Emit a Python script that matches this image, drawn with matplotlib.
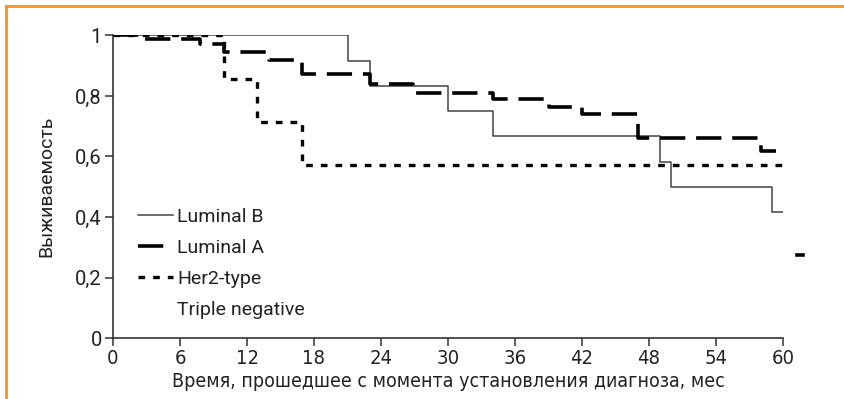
import matplotlib
matplotlib.use("Agg")
import matplotlib.pyplot as plt
from matplotlib.lines import Line2D

# Kaplan-Meier step data (months, survival)
lumb_t = [0, 21, 23, 30, 34, 49, 50, 59, 60]
lumb_s = [1.0, 0.917, 0.833, 0.75, 0.667, 0.583, 0.5, 0.417, 0.417]

luma_t = [0, 2.3, 7.8, 9.9, 14, 16.9, 23, 26.9, 34, 39, 42, 47, 58, 59.4]
luma_s = [1.0, 0.99, 0.972, 0.947, 0.92, 0.872, 0.84, 0.81, 0.789, 0.762, 0.741, 0.662, 0.618, 0.618]

her2_t = [0, 9.9, 12.9, 16.9, 60]
her2_s = [1.0, 0.857, 0.714, 0.571, 0.571]

# the only visible piece of the triple-negative curve sits outside the axes
tn_t = [61.25, 61.75]
tn_s = [0.275, 0.275]

x_ticks = list(range(0, 61, 6))
y_ticks = [0, 0.2, 0.4, 0.6, 0.8, 1.0]
y_labels = ["0", "0,2", "0,4", "0,6", "0,8", "1"]

plain = ["Roboto", "DejaVu Sans"]

fig = plt.figure(figsize=(8.44, 3.99), dpi=100)
ax = fig.add_axes([113 / 844, 1 - 338 / 399, 670 / 844, 302.5 / 399])

ax.step(lumb_t, lumb_s, where="post", color="#444444", lw=1.1, label="Luminal B")
ax.step(luma_t, luma_s, where="post", color="black", lw=2.6,
        dashes=(7, 3), label="Luminal A")
ax.step(her2_t, her2_s, where="post", color="black", lw=2.4,
        dashes=(2, 2.4), label="Her2-type")
ax.plot(tn_t, tn_s, color="black", lw=2.6, clip_on=False, label="Triple negative")

ax.set_xlim(0, 60)
ax.set_ylim(0, 1)
ax.set_xticks(x_ticks)
ax.set_xticklabels([str(t) for t in x_ticks], family="DejaVu Sans",
                   fontstretch="condensed", fontsize=14.5)
ax.set_yticks(y_ticks)
ax.set_yticklabels(y_labels, family=plain, fontsize=14.5)

for side in ["top", "right"]:
    ax.spines[side].set_visible(False)
for side in ["left", "bottom"]:
    ax.spines[side].set_color("#333333")
    ax.spines[side].set_linewidth(1.2)
ax.tick_params(axis="both", direction="out", length=6, width=1.1, color="#333333",
               labelcolor="#222222", pad=2)

ax.set_xlabel("Время, прошедшее с момента установления диагноза, мес",
              family="DejaVu Sans", fontstretch="condensed", fontsize=14,
              color="#222222", labelpad=3)
ax.set_ylabel("Выживаемость", family=plain, fontsize=14, color="#222222", labelpad=14)

leg = ax.legend(loc="upper left", bbox_to_anchor=(0.026, 0.455), frameon=False,
                prop={"family": plain, "size": 14}, handlelength=1.8,
                handletextpad=0.2, labelspacing=0.66, borderaxespad=0)
leg.legend_handles[3].set_visible(False)
for t in leg.get_texts():
    t.set_color("#222222")

# orange frame lines along the top and left edges
fig.add_artist(Line2D([6 / 844, 1], [1 - 6 / 399, 1 - 6 / 399],
                      transform=fig.transFigure, color="#F7941D", lw=2))
fig.add_artist(Line2D([6 / 844, 6 / 844], [0, 1 - 6 / 399],
                      transform=fig.transFigure, color="#F7941D", lw=2))

fig.savefig("out.png", dpi=100)
